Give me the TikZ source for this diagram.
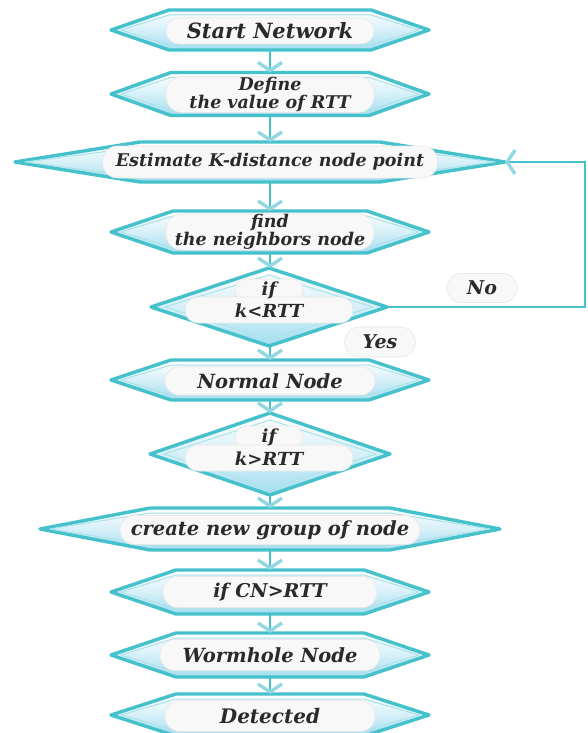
\documentclass[tikz,border=0pt]{standalone}
\usepackage{fontspec}
\setmainfont{DejaVu Serif}
\usetikzlibrary{arrows.meta}
\definecolor{tealb}{HTML}{45C1CC}
\definecolor{chev}{HTML}{93D8E0}
\definecolor{lblue}{HTML}{A3DDF0}
\definecolor{pillc}{HTML}{F8F8F8}
\definecolor{txt}{HTML}{2A2A2A}
\newcommand\ff[1]{\bfseries\itshape\fontsize{#1}{16.5}\selectfont}
\tikzset{
  hexshape/.style={draw=tealb, line width=3.4pt, line join=round, top color=white, bottom color=lblue, middle color=lblue!45},
  innerline/.style={draw=tealb!45, line width=1pt, line join=round},
  box/.style={shape=rectangle, draw=none, inner sep=0pt, outer sep=0pt},
  pill/.style={shape=rectangle, rounded corners=#1, fill=pillc, draw=black!9, line width=0.6pt, inner sep=0pt, align=center, text=txt, font=\ff{17.5}},
  pill/.default=12pt,
  lbl/.style={text=txt, inner sep=0pt, font=\ff{18}},
  conn/.style={draw=tealb, line width=2.6pt, -{Straight Barb[length=8pt,width=24pt,line width=3.4pt,color=chev]}},
}
\newcommand\hexstep[6]{%
  \path[hexshape] ({#2-#4},#3) -- ({#2-#4+#6},{#3-#5}) -- ({#2+#4-#6},{#3-#5}) -- ({#2+#4},#3) -- ({#2+#4-#6},{#3+#5}) -- ({#2-#4+#6},{#3+#5}) -- cycle;
  \path[innerline] ({#2-#4+10},#3) -- ({#2-#4+#6},{#3-#5+5}) -- ({#2+#4-#6},{#3-#5+5}) -- ({#2+#4-10},#3) -- ({#2+#4-#6},{#3+#5-5}) -- ({#2-#4+#6},{#3+#5-5}) -- cycle;
  \node[box, minimum width={2*#4pt}, minimum height={2*#5pt}] (#1) at (#2,#3) {};
}
\newcommand\diastep[5]{%
  \path[hexshape] ({#2-#4},#3) -- (#2,{#3-#5}) -- ({#2+#4},#3) -- (#2,{#3+#5}) -- cycle;
  \path[innerline] ({#2-#4+14},#3) -- (#2,{#3-#5+7}) -- ({#2+#4-14},#3) -- (#2,{#3+#5-7}) -- cycle;
  \node[box, minimum width={2*#4pt}, minimum height={2*#5pt}] (#1) at (#2,#3) {};
}
\begin{document}
\begin{tikzpicture}[x=1pt,y=-1pt]
\fill[white] (0,0) rectangle (587,733);
\useasboundingbox (0,0) rectangle (587,733);

% shapes
\hexstep{start}{270}{30}{159}{20}{58}
\hexstep{def}{270}{94}{159}{21.5}{60}
\hexstep{est}{260}{162}{245}{20}{125}
\hexstep{find}{270}{232}{159}{21}{62}
\diastep{d1}{269}{307}{118}{39}
\hexstep{norm}{270}{380}{159}{20}{60}
\diastep{d2}{270}{454}{120}{41}
\hexstep{create}{270}{529}{230}{21}{110}
\hexstep{ifcn}{270}{592}{159}{22}{65}
\hexstep{worm}{270}{655}{159}{22}{65}
\hexstep{det}{270}{715}{159}{21}{65}

% pills with text
\node[pill=13pt, minimum width=208pt, minimum height=26pt, font=\ff{21}] (tstart) at (270,31) {Start Network};
\node[pill=16pt, minimum width=208pt, minimum height=36pt] (tdef) at (270,94.5) {Define\\the value of RTT};
\node[pill=15pt, minimum width=335pt, minimum height=32pt] (test) at (270,162) {Estimate K-distance node point};
\node[pill=16pt, minimum width=208pt, minimum height=36pt] (tfind) at (270,232) {find\\the neighbors node};
\node[pill=11pt, minimum width=68pt, minimum height=22pt] (tif1) at (269,290) {};
\node[pill=13pt, minimum width=168pt, minimum height=26pt] (tk1) at (269,310) {};
\node[lbl] (lif1) at (269,290) {if};
\node[lbl] (lk1) at (269,311) {k<RTT};
\node[pill=14pt, minimum width=210pt, minimum height=28pt, font=\ff{19.5}] (tnorm) at (270,381) {Normal Node};
\node[pill=11pt, minimum width=68pt, minimum height=22pt] (tif2) at (269,437) {};
\node[pill=13pt, minimum width=168pt, minimum height=26pt] (tk2) at (269,458) {};
\node[lbl] (lif2) at (269,437) {if};
\node[lbl] (lk2) at (269,459) {k>RTT};
\node[pill=14pt, minimum width=300pt, minimum height=29pt, font=\ff{19.5}] (tcreate) at (270,530) {create new group of node};
\node[pill=15pt, minimum width=214pt, minimum height=31pt, font=\ff{19}] (tifcn) at (270,592) {if CN>RTT};
\node[pill=15pt, minimum width=220pt, minimum height=31pt, font=\ff{19.5}] (tworm) at (270,655) {Wormhole Node};
\node[pill=15pt, minimum width=210pt, minimum height=31pt, font=\ff{20}] (tdet) at (270,716) {Detected};
\node[pill=14pt, minimum width=70pt, minimum height=29pt, font=\ff{19}] (no) at (482,288) {No};
\node[pill=15pt, minimum width=71pt, minimum height=30pt, font=\ff{19}] (yes) at (380,342) {Yes};

% connectors
\draw[conn] (start.south) -- (def.north);
\draw[conn] (def.south) -- (def.south |- est.north);
\draw[conn] (find.north |- est.south) -- (find.north);
\draw[conn] (find.south) -- (find.south |- d1.north);
\draw[conn] (norm.north |- d1.south) -- (norm.north);
\draw[conn] (norm.south) -- (d2.north);
\draw[conn] (d2.south) -- (create.north);
\draw[conn] (create.south) -- (ifcn.north);
\draw[conn] (ifcn.south) -- (worm.north);
\draw[conn] (worm.south) -- (det.north);
\coordinate (lc) at (585,307);
\draw[conn, line width=2.4pt] (d1.east) -- (lc) |- (est.east);
\end{tikzpicture}
\end{document}
